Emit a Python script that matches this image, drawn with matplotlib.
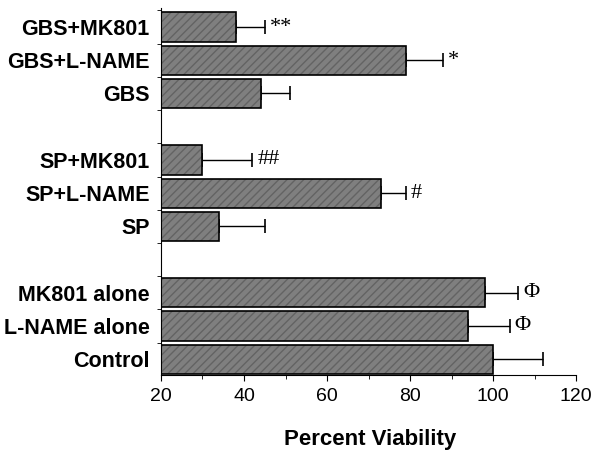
import numpy as np
import matplotlib.pyplot as plt
from matplotlib.ticker import MultipleLocator, FixedLocator

# groups top to bottom, blank strings are the gaps between groups
labels = ['GBS+MK801', 'GBS+L-NAME', 'GBS', '',
          'SP+MK801', 'SP+L-NAME', 'SP', '',
          'MK801 alone', 'L-NAME alone', 'Control']
viability = [38, 79, 44, None, 30, 73, 34, None, 98, 94, 100]
sem = [7, 9, 7, None, 12, 6, 11, None, 8, 10, 12]
marks = ['**', '*', '', '', '##', '#', '', '', 'Φ', 'Φ', '']

fig = plt.figure(figsize=(5.94, 4.53), dpi=100)
ax = fig.add_axes([0.271, 0.172, 0.699, 0.81])

n = len(labels)
pos = np.arange(n)[::-1]
idx = [i for i in range(n) if viability[i] is not None]
y = pos[idx]
vals = np.array([viability[i] for i in idx])
errs = np.array([sem[i] for i in idx])
base = 20

# fill with hatch, then black outline on top
ax.barh(y, vals - base, left=base, height=0.88, color='#7f7f7f',
        edgecolor='#636363', hatch='////', linewidth=0, zorder=2)
ax.barh(y, vals - base, left=base, height=0.88, fill=False,
        edgecolor='black', linewidth=1.2, zorder=3)
ax.errorbar(vals, y, xerr=[np.zeros_like(errs), errs], fmt='none',
            ecolor='black', elinewidth=1, capsize=5, capthick=1.2, zorder=1)

for i in idx:
    if marks[i]:
        ax.text(viability[i] + sem[i] + 1.2, pos[i], marks[i],
                family='Liberation Serif', fontsize=16, va='center', ha='left')

ax.set_xlim(20, 120)
ax.set_ylim(-0.48, 10.57)
ax.xaxis.set_major_locator(MultipleLocator(20))
ax.xaxis.set_minor_locator(MultipleLocator(10))
ax.set_yticks(pos)
ax.set_yticklabels(labels, fontweight='bold', fontsize=15.5, family='Liberation Sans')
ax.yaxis.set_minor_locator(FixedLocator(np.arange(-0.5, n, 1.0)))
ax.tick_params(axis='y', which='major', length=0, pad=8)
ax.tick_params(axis='y', which='minor', length=3, direction='out')
ax.tick_params(axis='x', which='major', length=4, labelsize=14, pad=5)
ax.tick_params(axis='x', which='minor', length=3)
for t in ax.get_xticklabels():
    t.set_family('Liberation Sans')

ax.spines['top'].set_visible(False)
ax.spines['right'].set_visible(False)

fig.text(0.623, 0.006, 'Percent Viability', ha='center', va='bottom',
         fontweight='bold', fontsize=16, family='Liberation Sans')

fig.savefig('out.png', dpi=100)
